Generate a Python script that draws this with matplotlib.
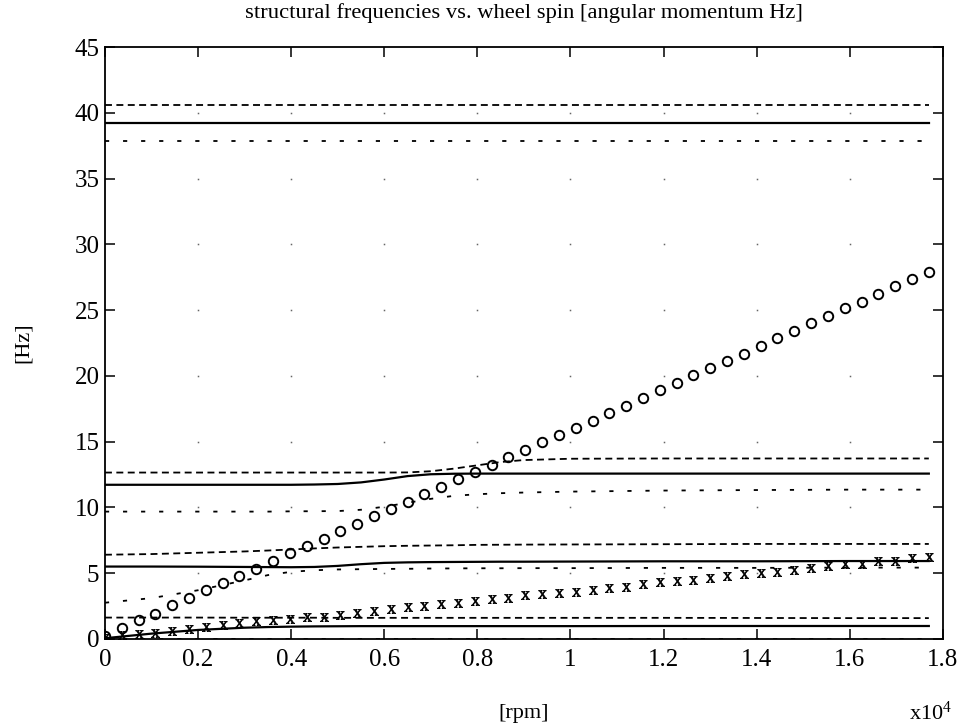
import matplotlib
matplotlib.use("Agg")
import matplotlib.pyplot as plt
from matplotlib.ticker import FuncFormatter, MultipleLocator

plt.rcParams["font.family"] = ["Liberation Serif", "DejaVu Serif"]
plt.rcParams["mathtext.fontset"] = "custom"
plt.rcParams["mathtext.rm"] = "Liberation Serif"
plt.rcParams["mathtext.default"] = "regular"
plt.rcParams["lines.scale_dashes"] = False

# wheel speed samples for the marker series [rpm]
rpm_pts = [0, 361, 722, 1084, 1445, 1806, 2167, 2529, 2890, 3251,
           3612, 3973, 4335, 4696, 5057, 5418, 5780, 6141, 6502, 6863,
           7224, 7586, 7947, 8308, 8669, 9031, 9392, 9753, 10114, 10476,
           10837, 11198, 11559, 11920, 12282, 12643, 13004, 13365, 13727, 14088,
           14449, 14810, 15171, 15533, 15894, 16255, 16616, 16978, 17339, 17700]

# wheel angular momentum frequency [Hz]
wheel_hz = [0.2, 0.84, 1.47, 1.91, 2.54, 3.13, 3.71, 4.22, 4.78, 5.34,
            5.92, 6.56, 7.07, 7.63, 8.19, 8.77, 9.36, 9.87, 10.42, 11.01,
            11.57, 12.15, 12.66, 13.25, 13.81, 14.4, 15.0, 15.5, 16.05, 16.6,
            17.2, 17.7, 18.3, 18.9, 19.45, 20.05, 20.6, 21.15, 21.7, 22.3,
            22.85, 23.45, 24.0, 24.55, 25.15, 25.65, 26.25, 26.8, 27.35, 27.9]

# low-frequency whirl mode [Hz]
whirl_hz = [0.1, 0.33, 0.4, 0.45, 0.58, 0.76, 0.92, 1.02, 1.17, 1.35,
            1.40, 1.53, 1.65, 1.68, 1.78, 1.98, 2.11, 2.29, 2.42, 2.49,
            2.62, 2.75, 2.90, 3.0, 3.12, 3.33, 3.38, 3.46, 3.60, 3.74,
            3.88, 3.96, 4.15, 4.29, 4.37, 4.51, 4.62, 4.76, 4.92, 4.98,
            5.12, 5.25, 5.39, 5.53, 5.67, 5.72, 5.89, 5.94, 6.14, 6.22]

# wheel speeds for the structural mode curves [rpm]
rpm_line = [0, 1000, 2000, 3000, 3500, 4000, 4500, 5000, 5500, 6000,
            6500, 7000, 7500, 8000, 8500, 9000, 10000, 12000, 14000, 16000, 17700]

mode4_dash = [40.6] * 21
mode4_solid = [39.2] * 21
mode4_dot = [37.9] * 21

mode3_dash = [12.65, 12.65, 12.65, 12.65, 12.65, 12.65, 12.65, 12.65, 12.65, 12.65,
              12.66, 12.75, 12.95, 13.2, 13.45, 13.6, 13.7, 13.72, 13.72, 13.72, 13.72]
mode3_solid = [11.72, 11.72, 11.72, 11.72, 11.72, 11.72, 11.74, 11.78, 11.9, 12.12,
               12.38, 12.52, 12.56, 12.57, 12.57, 12.57, 12.57, 12.57, 12.57, 12.57, 12.57]
mode3_dot = [9.68, 9.68, 9.68, 9.68, 9.68, 9.7, 9.71, 9.72, 9.82, 10.05,
             10.35, 10.65, 10.88, 11.0, 11.08, 11.13, 11.2, 11.28, 11.32, 11.35, 11.35]

mode2_dash = [6.4, 6.45, 6.55, 6.65, 6.72, 6.8, 6.88, 6.95, 7.0, 7.05,
              7.08, 7.1, 7.12, 7.15, 7.16, 7.17, 7.18, 7.2, 7.22, 7.22, 7.22]
mode2_solid = [5.5, 5.5, 5.49, 5.47, 5.46, 5.45, 5.47, 5.55, 5.68, 5.78,
               5.82, 5.84, 5.85, 5.86, 5.87, 5.87, 5.88, 5.9, 5.9, 5.92, 5.92]
mode2_dot = [2.75, 3.1, 3.7, 4.45, 4.85, 5.1, 5.22, 5.28, 5.3, 5.32,
             5.33, 5.35, 5.36, 5.37, 5.37, 5.38, 5.38, 5.4, 5.4, 5.42, 5.42]

mode1_dash = [1.62, 1.62, 1.62, 1.61, 1.61, 1.61, 1.61, 1.6, 1.6, 1.6,
              1.6, 1.6, 1.6, 1.6, 1.6, 1.6, 1.6, 1.6, 1.59, 1.58, 1.58]
mode1_solid = [0.05, 0.4, 0.68, 0.85, 0.9, 0.93, 0.95, 0.96, 0.97, 0.97,
               0.97, 0.97, 0.97, 0.97, 0.97, 0.97, 0.97, 0.98, 0.98, 0.98, 0.98]
mode1_dot = [0.0] * 21

x_ticks = [0, 2000, 4000, 6000, 8000, 10000, 12000, 14000, 16000, 18000]

fig = plt.figure(figsize=(9.63, 7.26), dpi=100)
ax = fig.add_axes([0.109, 0.12, 0.870, 0.815])

lw = 1.3
dash = (5, 3.2)
dot = (3, 10)

for dashed, solid, dotted in [(mode4_dash, mode4_solid, mode4_dot),
                              (mode3_dash, mode3_solid, mode3_dot),
                              (mode2_dash, mode2_solid, mode2_dot),
                              (mode1_dash, mode1_solid, mode1_dot)]:
    ax.plot(rpm_line, dashed, color="black", lw=lw, linestyle=(0, dash))
    ax.plot(rpm_line, solid, color="black", lw=lw + 0.3, linestyle="-")
    ax.plot(rpm_line, dotted, color="black", lw=lw, linestyle=(0, dot))

ax.plot(rpm_pts, wheel_hz, linestyle="none", marker="o", markersize=6.8,
        markerfacecolor="none", markeredgecolor="black", markeredgewidth=1.4)
ax.plot(rpm_pts, whirl_hz, linestyle="none", marker=r"$\mathrm{x}$",
        markersize=6, color="black", markeredgewidth=0.5)

ax.set_xlim(0, 18000)
ax.set_ylim(0, 45)
ax.set_xticks(x_ticks)
ax.xaxis.set_major_formatter(FuncFormatter(lambda v, p: f"{v / 1e4:g}"))
ax.yaxis.set_major_locator(MultipleLocator(5))

# faint grid residue at tick intersections
for gx in x_ticks[1:-1]:
    for gy in range(5, 45, 5):
        ax.plot(gx, gy, marker="s", markersize=1.1, color="black",
                markeredgewidth=0, alpha=0.6)

ax.tick_params(direction="in", length=7, width=1.1, top=True, right=True,
               labelsize=18)
ax.tick_params(axis="x", pad=7)
ax.tick_params(axis="y", pad=4)
for s in ax.spines.values():
    s.set_linewidth(1.3)

fig.text(0.544, 1 - 13 / 726,
         "structural frequencies vs. wheel spin [angular momentum Hz]",
         fontsize=16.2, ha="center", va="center")
ax.set_xlabel("[rpm]", fontsize=16, labelpad=24)
ax.set_ylabel("[Hz]", fontsize=16, labelpad=30)
ax.text(0.985, -0.125, "x10$^4$", transform=ax.transAxes, fontsize=16,
        ha="center", va="center")

fig.savefig("out.png", dpi=100)
